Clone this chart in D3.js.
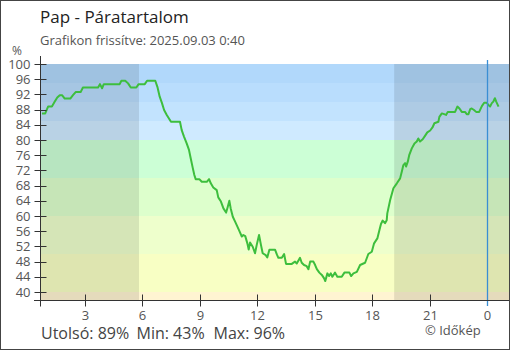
<!DOCTYPE html>
<html><head><meta charset="utf-8">
<script src="https://cdn.jsdelivr.net/npm/d3@7"></script>
<style>body{margin:0;background:#fff}svg{display:block;font-family:"Open Sans","Noto Sans",sans-serif}</style>
</head><body><svg id="c" width="510" height="350"></svg>
<script>
const hours = [0.75,0.92,1.07,1.27,1.42,1.55,1.68,1.80,1.94,2.23,2.37,2.51,2.77,2.89,3.68,3.78,3.89,3.98,4.81,4.90,5.10,5.25,5.39,5.68,5.80,6.12,6.24,6.67,6.78,6.90,7.02,7.13,7.27,7.49,7.96,8.05,8.17,8.31,8.43,8.52,8.63,8.71,8.78,8.97,9.10,9.36,9.48,9.57,9.70,9.88,9.96,10.10,10.23,10.37,10.45,10.54,10.61,10.72,10.84,10.96,11.06,11.19,11.27,11.37,11.48,11.55,11.62,11.76,11.88,11.97,12.09,12.19,12.28,12.44,12.52,12.63,12.93,13.02,13.10,13.28,13.40,13.50,13.80,13.97,14.06,14.23,14.32,14.44,14.58,14.67,14.76,14.93,15.02,15.11,15.24,15.37,15.49,15.55,15.66,15.75,15.84,15.92,16.06,16.18,16.41,16.55,16.81,16.90,17.02,17.20,17.37,17.63,17.80,17.98,18.10,18.27,18.38,18.46,18.55,18.67,18.76,18.79,18.94,19.11,19.29,19.46,19.55,19.63,19.72,19.77,19.86,19.94,20.07,20.21,20.33,20.41,20.50,20.64,20.76,20.88,21.03,21.15,21.25,21.46,21.51,21.64,21.76,21.86,21.95,22.33,22.45,22.56,22.68,22.85,22.94,23.03,23.12,23.20,23.32,23.43,23.59,23.73,23.85,23.99,24.07,24.16,24.25,24.33,24.41,24.48,24.60];
const humidity = [87.0,87.0,88.8,88.8,90.1,91.2,91.8,91.8,90.9,90.9,91.8,92.6,92.6,93.8,93.8,94.7,93.6,94.7,94.7,95.6,95.6,94.9,93.8,93.8,94.7,94.7,95.6,95.6,94.0,91.4,89.7,87.9,86.6,84.8,84.8,82.6,80.9,79.1,77.4,75.2,72.6,70.8,69.7,69.7,69.0,69.0,69.7,68.6,67.5,66.8,64.9,63.8,62.0,60.9,62.3,64.0,62.0,59.8,58.5,57.2,56.1,54.6,55.0,54.7,52.8,51.2,53.0,51.9,50.2,52.4,55.0,52.4,50.2,49.7,49.1,51.1,51.1,49.9,49.0,49.0,50.0,47.4,47.4,48.0,47.5,49.0,47.7,47.1,46.8,46.0,48.0,48.0,47.1,46.0,45.1,44.5,43.6,42.9,44.9,44.2,44.9,44.0,45.1,44.0,44.0,45.1,45.1,44.2,44.9,45.3,47.1,47.7,50.0,50.6,52.8,54.1,56.3,57.9,58.8,58.1,58.9,60.7,64.2,67.3,68.6,69.9,71.7,73.4,73.9,73.0,74.3,76.1,77.8,79.1,79.6,80.4,79.6,80.2,81.1,82.0,82.5,83.3,84.4,84.8,86.1,87.0,86.8,86.6,87.4,87.4,88.8,88.3,87.4,87.4,86.8,86.8,88.1,88.3,87.9,87.4,87.4,88.9,89.8,89.8,89.2,88.8,89.7,90.1,91.0,90.1,88.8];
const yTicks = [40,44,48,52,56,60,64,68,72,76,80,84,88,92,96,100];
const xTicks = [3,6,9,12,15,18,21,24];
const xTickLabels = ["3","6","9","12","15","18","21","0"];
const bandEdges = [100,95,90,85,80,70,60,50,40];
const bandColors = ["#b1d8fb","#b9ddfd","#c2e3fe","#cfeaff","#ccffd6","#ddffcc","#eeffcc","#f8ffc4","#fff4d2"];
const nights = [[0.7,5.82],[19.15,25.2]];
const nowHour = 24;
const title = "Pap - Páratartalom";
const subtitle = "Grafikon frissítve: 2025.09.03 0:40";
const stats = ["Utolsó: 89%","Min: 43%","Max: 96%"];

const svg = d3.select("#c");
const x = d3.scaleLinear().domain([0.7,25.2]).range([41,510]);
const y = d3.scaleLinear().domain([40,100]).range([292,64]);
const yMin = y.invert(300.5);
const plotTop = y(100), plotBottom = y(yMin);

// bands
const edges = bandEdges.concat([yMin]);
bandColors.forEach((c,i)=>{
  svg.append("rect").attr("x",x(0.7)).attr("width",x(25.2)-x(0.7))
    .attr("y",y(edges[i])).attr("height",y(edges[i+1])-y(edges[i])).attr("fill",c);
});
// night shading
nights.forEach(n=>{
  svg.append("rect").attr("x",x(n[0])).attr("width",x(n[1])-x(n[0]))
    .attr("y",plotTop).attr("height",plotBottom-plotTop).attr("fill","rgba(0,0,0,0.1)");
});
// line
const pts = hours.map((h,i)=>[h,humidity[i]]);
svg.append("path").datum(pts).attr("fill","none").attr("stroke","#3dbe3d").attr("stroke-width",2)
  .attr("stroke-linejoin","round")
  .attr("d",d3.line().x(d=>x(d[0])).y(d=>y(d[1])));

// now line
svg.append("line").attr("x1",Math.round(x(nowHour))+0.5).attr("x2",Math.round(x(nowHour))+0.5)
  .attr("y1",60).attr("y2",306).attr("stroke","#3a8ed4").attr("stroke-width",1.3);

// y axis
const gy = svg.append("g").attr("transform","translate(40.5,0)");
gy.append("line").attr("y1",56).attr("y2",306.5).attr("stroke","#333");
yTicks.forEach(t=>{
  gy.append("line").attr("x1",-6).attr("x2",6).attr("y1",Math.round(y(t))+0.5).attr("y2",Math.round(y(t))+0.5).attr("stroke","#333");
  gy.append("text").attr("x",-10).attr("y",y(t)+4.5).attr("text-anchor","end")
    .attr("font-size",13).attr("fill","#555").text(t);
});
svg.append("text").attr("x",17).attr("y",55).attr("text-anchor","middle").attr("font-size",12).attr("fill","#555").text("%");

// x axis
const gx = svg.append("g").attr("transform","translate(0,300.5)");
gx.append("line").attr("x1",34).attr("x2",510).attr("stroke","#333");
xTicks.forEach((t,i)=>{
  const xx = Math.round(x(t))+0.5;
  if(t!==nowHour) gx.append("line").attr("x1",xx).attr("x2",xx).attr("y1",-6).attr("y2",6).attr("stroke","#333");
  gx.append("text").attr("x",xx).attr("y",19.5).attr("text-anchor","middle").attr("font-size",13).attr("fill","#555").text(xTickLabels[i]);
});

// texts
svg.append("text").attr("x",40).attr("y",23).attr("font-size",17).attr("fill","#222").text(title);
svg.append("text").attr("x",40).attr("y",45).attr("font-size",13).attr("fill","#555").text(subtitle);
const statX = [41,136.5,213.5];
stats.forEach((s,i)=>svg.append("text").attr("x",statX[i]).attr("y",339).attr("font-size",16).attr("fill","#444").text(s));
svg.append("text").attr("x",425).attr("y",335).attr("font-size",13).attr("fill","#555").text("© Időkép");

// border
svg.append("rect").attr("x",0.5).attr("y",0.5).attr("width",509).attr("height",349).attr("fill","none").attr("stroke","#444");
</script></body></html>
